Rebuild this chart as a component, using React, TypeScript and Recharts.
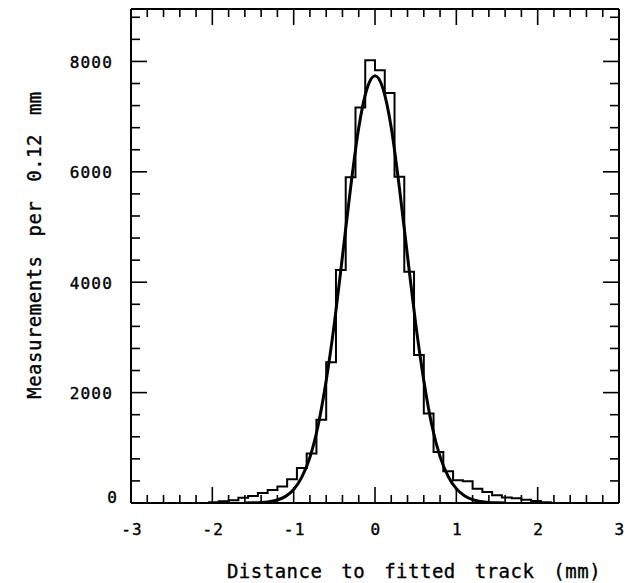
import { ComposedChart, Line, XAxis, YAxis } from "recharts";

// histogram: left edge of each 0.12 mm bin and its count
const binStarts = [
  -2.28, -2.16, -2.04, -1.92, -1.8, -1.68, -1.56, -1.44, -1.32, -1.2, -1.08, -0.96, -0.84,
  -0.72, -0.6, -0.48, -0.36, -0.24, -0.12, 0, 0.12, 0.24, 0.36, 0.48, 0.6, 0.72, 0.84, 0.96,
  1.08, 1.2, 1.32, 1.44, 1.56, 1.68, 1.8, 1.92, 2.04, 2.16, 2.28,
];
const binCounts = [
  0, 0, 15, 30, 50, 95, 125, 180, 235, 300, 430, 635, 895,
  1510, 2550, 4220, 5900, 7165, 8020, 7840, 7430, 5910, 4190, 2680, 1620, 925, 575, 410,
  395, 260, 200, 140, 98, 85, 60, 36, 15, 0, 0,
];

// fitted curve
const fitX = [
  -1.6, -1.5, -1.4, -1.3, -1.2, -1.1, -1.0, -0.9, -0.8, -0.7, -0.6, -0.5, -0.4, -0.3, -0.2, -0.1,
  0, 0.1, 0.2, 0.3, 0.4, 0.5, 0.6, 0.7, 0.8, 0.9, 1.0, 1.1, 1.2, 1.3, 1.4, 1.5, 1.6,
];
const fitY = [
  0, 3, 9, 25, 55, 120, 245, 470, 830, 1400, 2220, 3250, 4470, 5710, 6800, 7500,
  7740, 7500, 6800, 5710, 4470, 3250, 2220, 1400, 840, 480, 260, 130, 60, 27, 10, 3, 0,
];

const xTicks = [
  -3, -2.8, -2.6, -2.4, -2.2, -2, -1.8, -1.6, -1.4, -1.2, -1, -0.8, -0.6, -0.4, -0.2, 0,
  0.2, 0.4, 0.6, 0.8, 1, 1.2, 1.4, 1.6, 1.8, 2, 2.2, 2.4, 2.6, 2.8, 3,
];
const yTicks = [
  0, 400, 800, 1200, 1600, 2000, 2400, 2800, 3200, 3600, 4000, 4400, 4800, 5200, 5600,
  6000, 6400, 6800, 7200, 7600, 8000, 8400, 8800,
];

const histData = binStarts.map((x, i) => ({ x, count: binCounts[i] }));
const fitData = fitX.map((x, i) => ({ x, fit: fitY[i] }));

const FONT = "'DejaVu Sans Mono', monospace";
const INK = "#000";
const isMajorX = (v: number) => Math.abs(v - Math.round(v)) < 1e-6;
const isMajorY = (v: number) => v % 2000 === 0;

const tickText = {
  fontFamily: FONT,
  fontSize: 16,
  letterSpacing: 1.2,
  fill: INK,
  stroke: INK,
  strokeWidth: 0.4,
};

function BottomTick(props: any) {
  const { x, y, payload } = props;
  const v = payload.value;
  const major = isMajorX(v);
  return (
    <g>
      <line x1={x} y1={y} x2={x} y2={y - (major ? 16 : 8)} stroke={INK} strokeWidth={1.6} />
      {major && (
        <text x={x + 1} y={y + 32} textAnchor="middle" style={tickText}>
          {v < 0 ? `-${-v}` : String(Math.round(v))}
        </text>
      )}
    </g>
  );
}

function TopTick(props: any) {
  const { x, y, payload } = props;
  const major = isMajorX(payload.value);
  return <line x1={x} y1={y} x2={x} y2={y + (major ? 16 : 8)} stroke={INK} strokeWidth={1.6} />;
}

function LeftTick(props: any) {
  const { x, y, payload } = props;
  const v = payload.value;
  const major = isMajorY(v);
  const zero = v === 0;
  return (
    <g>
      <line x1={x} y1={y} x2={x + (major ? 16 : 9)} y2={y} stroke={INK} strokeWidth={1.6} />
      {major && (
        <text
          x={zero ? x - 13 : x - 18}
          y={zero ? y - 6 : y + 1}
          textAnchor="end"
          dominantBaseline="central"
          style={tickText}
        >
          {v}
        </text>
      )}
    </g>
  );
}

function RightTick(props: any) {
  const { x, y, payload } = props;
  const major = isMajorY(payload.value);
  return <line x1={x} y1={y} x2={x - (major ? 16 : 9)} y2={y} stroke={INK} strokeWidth={1.6} />;
}

const titleStyle = {
  fontFamily: FONT,
  fontSize: 19,
  letterSpacing: 0.5,
  wordSpacing: 7,
  fill: INK,
  stroke: INK,
  strokeWidth: 0.35,
};

const XTitle = () => (
  <text x={414} y={578} textAnchor="middle" style={titleStyle}>
    Distance to fitted track (mm)
  </text>
);

const YTitle = () => (
  <text x={41} y={245} textAnchor="middle" transform="rotate(-90 41 245)" style={titleStyle}>
    Measurements per 0.12 mm
  </text>
);

export default function App() {
  const axisLine = { stroke: INK, strokeWidth: 2 };
  return (
    <div style={{ position: "absolute", left: 0, top: 0, width: 629, height: 583, background: "#fff" }}>
      <ComposedChart width={629} height={583} margin={{ top: 8, right: 9, bottom: 79, left: 0 }}>
        <XAxis
          xAxisId="bottom"
          type="number"
          dataKey="x"
          orientation="bottom"
          domain={[-3, 3]}
          allowDataOverflow
          ticks={xTicks}
          interval={0}
          height={1}
          tickSize={0}
          tickMargin={0}
          tickLine={false}
          axisLine={axisLine}
          tick={<BottomTick />}
          label={XTitle}
        />
        <XAxis
          xAxisId="top"
          type="number"
          dataKey="x"
          orientation="top"
          domain={[-3, 3]}
          allowDataOverflow
          ticks={xTicks}
          interval={0}
          height={1}
          tickSize={0}
          tickMargin={0}
          tickLine={false}
          axisLine={axisLine}
          tick={<TopTick />}
        />
        <YAxis
          yAxisId="left"
          type="number"
          orientation="left"
          domain={[0, 8950]}
          allowDataOverflow
          ticks={yTicks}
          interval={0}
          width={131}
          tickSize={0}
          tickMargin={0}
          tickLine={false}
          axisLine={axisLine}
          tick={<LeftTick />}
          label={YTitle}
        />
        <YAxis
          yAxisId="right"
          type="number"
          orientation="right"
          domain={[0, 8950]}
          allowDataOverflow
          ticks={yTicks}
          interval={0}
          width={1}
          tickSize={0}
          tickMargin={0}
          tickLine={false}
          axisLine={axisLine}
          tick={<RightTick />}
        />
        <Line
          xAxisId="bottom"
          yAxisId="left"
          data={histData}
          dataKey="count"
          type="stepAfter"
          stroke={INK}
          strokeWidth={2}
          dot={false}
          activeDot={false}
          isAnimationActive={false}
        />
        <Line
          xAxisId="bottom"
          yAxisId="left"
          data={fitData}
          dataKey="fit"
          type="monotone"
          stroke={INK}
          strokeWidth={3}
          dot={false}
          activeDot={false}
          isAnimationActive={false}
        />
      </ComposedChart>
    </div>
  );
}
